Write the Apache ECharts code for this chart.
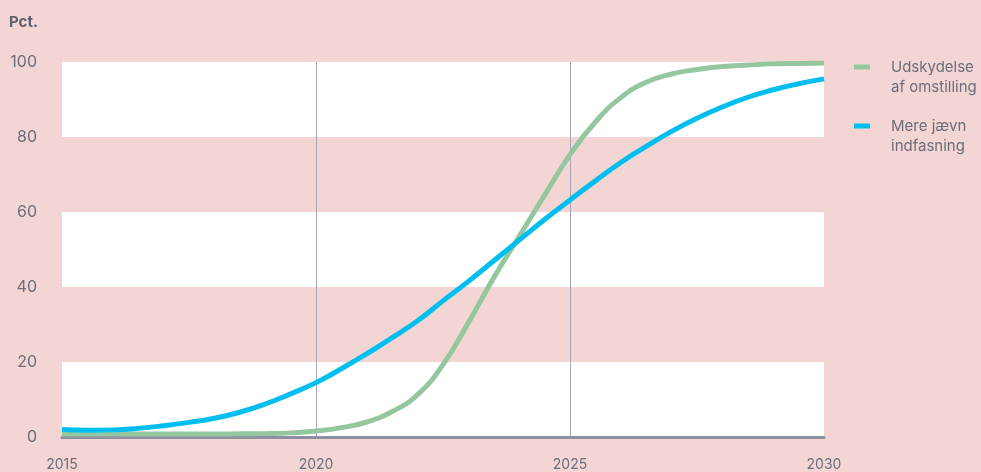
<!DOCTYPE html>
<html><head><meta charset="utf-8">
<script src="https://cdn.jsdelivr.net/npm/echarts@6/dist/echarts.min.js"></script>
<style>html,body{margin:0;padding:0;background:#f3d5d3;}#c{width:981px;height:472px;}</style>
</head><body><div id="c"></div>
<script>
const years = [2015,2015.5,2016,2016.5,2017,2017.5,2018,2018.5,2019,2019.5,2020,2020.5,2021,2021.5,2022,2022.5,2023,2023.5,2024,2024.5,2025,2025.5,2026,2026.5,2027,2027.5,2028,2028.5,2029,2029.5,2030];
const udskydelse = [0.8,0.8,0.8,0.8,0.8,0.8,0.8,0.85,0.9,1.1,1.6,2.5,4.0,6.8,11.3,19.3,30.5,42.5,53.5,64.5,75.3,84.0,90.5,94.6,96.8,98.0,98.8,99.2,99.5,99.6,99.7];
const jaevn = [2.0,1.8,1.9,2.3,3.0,3.9,5.0,6.6,8.8,11.5,14.5,18.2,22.2,26.5,31,36.3,41.5,47,52.5,58,63.2,68.3,73.2,77.5,81.5,85,88,90.6,92.6,94.2,95.5];
const seriesNames = ['Udskydelse\naf omstilling','Mere jævn\nindfasning'];
const xTicks = [2015,2020,2025,2030];
const yTicks = [0,20,40,60,80,100];

const chart = echarts.init(document.getElementById('c'), null, {renderer:'canvas'});
const font = 'Inter, "Open Sans", sans-serif';
chart.setOption({
  backgroundColor:'#f3d5d3',
  animation:false,
  title:{text:'Pct.', left:4, top:10, textStyle:{fontFamily:font, fontSize:15, fontWeight:'bold', color:'#5f6270'}},
  grid:{left:62, right:157, top:62, bottom:34, containLabel:false},
  legend:{
    orient:'vertical', left:849, top:32, itemWidth:16, itemHeight:5, itemGap:-1, icon:'rect',
    formatter: n => '\n' + n,
    textStyle:{fontFamily:font, fontSize:15, color:'#6b6e7a', lineHeight:20, padding:[0,0,0,16]},
    data:seriesNames
  },
  xAxis:{
    type:'value', min:xTicks[0], max:xTicks[xTicks.length-1], interval:5,
    axisLine:{show:true, onZero:false, lineStyle:{color:'#8e90a0', width:3}},
    axisTick:{show:false},
    axisLabel:{fontFamily:font, fontSize:14, color:'#6b6e7a', margin:21, formatter:v=>String(v)},
    splitLine:{show:true, showMinLine:false, showMaxLine:false, lineStyle:{color:'#a3a3b3', width:1}}
  },
  yAxis:{
    type:'value', min:yTicks[0], max:yTicks[yTicks.length-1], interval:20,
    axisLine:{show:false}, axisTick:{show:false},
    axisLabel:{fontFamily:font, fontSize:16, color:'#6b6e7a', margin:25},
    splitLine:{show:false},
    splitArea:{show:true, areaStyle:{color:['#ffffff','rgba(0,0,0,0)']}}
  },
  series:[
    {name:seriesNames[0], type:'line', smooth:true, showSymbol:false, data:years.map((y,i)=>[y,udskydelse[i]]),
     lineStyle:{width:5, color:'#94c6a0'}, itemStyle:{color:'#94c6a0'}, z:2},
    {name:seriesNames[1], type:'line', smooth:true, showSymbol:false, data:years.map((y,i)=>[y,jaevn[i]]),
     lineStyle:{width:5, color:'#00bff0'}, itemStyle:{color:'#00bff0'}, z:3}
  ]
});
</script></body></html>
